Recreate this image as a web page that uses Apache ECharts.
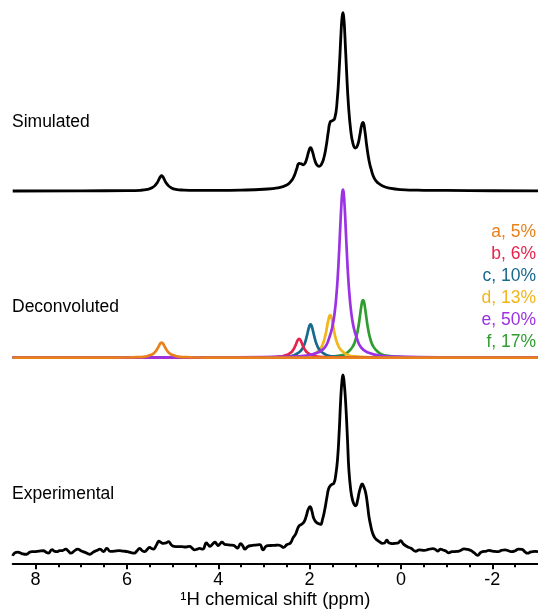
<!DOCTYPE html>
<html><head><meta charset="utf-8">
<script src="https://cdn.jsdelivr.net/npm/echarts@6/dist/echarts.min.js"></script>
<style>html,body{margin:0;padding:0;background:#fff}#c{width:538px;height:615px}</style>
</head><body><div id="c"></div>
<script>
// ---- data (ppm, intensity) ----
const tickLabels = [8, 6, 4, 2, 0, -2];
const minorTicks = [8, 7.5, 7, 6.5, 6, 5.5, 5, 4.5, 4, 3.5, 3, 2.5, 2, 1.5, 1, 0.5, 0, -0.5, -1, -1.5, -2, -2.5];
const spectrumNames = ['Simulated', 'Deconvoluted', 'Experimental'];
const componentLabels = ['a, 5%', 'b, 6%', 'c, 10%', 'd, 13%', 'e, 50%', 'f, 17%'];

const simulated = [[8.5,0],[7.0,0.1],[6.0,0.2],[5.7,0.4],[5.55,0.9],[5.45,1.8],[5.38,3.2],[5.33,5.0],[5.29,7.0],[5.265,8.1],[5.24,8.7],[5.215,8.1],[5.19,7.0],[5.15,5.0],[5.10,3.2],[5.03,1.8],[4.93,0.9],[4.75,0.5],[4.5,0.35],[4.0,0.35],[3.5,0.5],[3.0,1.0],[2.7,1.8],[2.5,3.4],[2.40,5.7],[2.33,9.0],[2.28,12.7],[2.23,15.6],[2.18,15.3],[2.14,14.8],[2.10,15.7],[2.06,18.5],[2.02,22.3],[1.98,24.5],[1.94,22.5],[1.89,17.7],[1.84,14.7],[1.79,13.9],[1.74,15.1],[1.69,18.5],[1.64,24.8],[1.59,33.6],[1.55,39.0],[1.50,39.7],[1.45,41.0],[1.40,50.0],[1.35,69.8],[1.31,90.4],[1.29,98.0],[1.27,100.7],[1.25,97.4],[1.23,89.1],[1.19,67.3],[1.15,48.8],[1.10,34.3],[1.05,26.8],[1.00,24.3],[0.95,25.8],[0.90,31.6],[0.86,37.3],[0.83,38.7],[0.79,33.9],[0.75,25.7],[0.70,17.3],[0.65,12.0],[0.58,7.0],[0.50,4.5],[0.40,2.8],[0.25,1.6],[0.0,0.8],[-0.5,0.4],[-1.0,0.3],[-2.0,0.15],[-3.0,0.1]];

const compA = [[8.5,0],[7.74,0.02],[6.44,0.05],[6.04,0.1],[5.79,0.3],[5.64,0.5],[5.54,1.0],[5.47,1.6],[5.42,2.3],[5.38,3.3],[5.35,4.3],[5.33,5.2],[5.31,6.1],[5.29,7.1],[5.27,8.0],[5.255,8.4],[5.24,8.6],[5.225,8.4],[5.21,8.0],[5.19,7.1],[5.17,6.1],[5.15,5.2],[5.13,4.3],[5.10,3.3],[5.06,2.3],[5.01,1.6],[4.94,1.0],[4.84,0.5],[4.69,0.3],[4.44,0.1],[4.04,0.05],[2.74,0.02],[-3,0]];
const compB = [[8.5,0],[4.73,0.02],[3.43,0.06],[3.03,0.14],[2.78,0.3],[2.63,0.6],[2.53,1.3],[2.46,2.0],[2.41,2.9],[2.37,4.0],[2.34,5.3],[2.32,6.3],[2.30,7.5],[2.28,8.8],[2.26,9.9],[2.245,10.4],[2.23,10.6],[2.215,10.4],[2.20,9.9],[2.18,8.8],[2.16,7.5],[2.14,6.3],[2.12,5.3],[2.09,4.0],[2.05,2.9],[2.00,2.0],[1.93,1.3],[1.83,0.6],[1.68,0.3],[1.43,0.14],[1.03,0.06],[-0.27,0.02],[-3,0]];
const compC = [[8.5,0],[4.48,0.04],[3.18,0.1],[2.78,0.25],[2.53,0.6],[2.38,1.1],[2.28,2.2],[2.21,3.5],[2.16,5.1],[2.12,7.2],[2.09,9.4],[2.07,11.3],[2.05,13.4],[2.03,15.6],[2.01,17.5],[1.995,18.5],[1.98,18.8],[1.965,18.5],[1.95,17.5],[1.93,15.6],[1.91,13.4],[1.89,11.3],[1.87,9.4],[1.84,7.2],[1.80,5.1],[1.75,3.5],[1.68,2.2],[1.58,1.1],[1.43,0.6],[1.18,0.25],[0.78,0.1],[-0.52,0.04],[-3,0]];
const compD = [[8.5,0],[4.05,0.05],[2.75,0.15],[2.35,0.3],[2.10,0.7],[1.95,1.4],[1.85,2.9],[1.78,4.5],[1.73,6.6],[1.69,9.2],[1.66,12.1],[1.64,14.4],[1.62,17.2],[1.60,20.0],[1.58,22.4],[1.565,23.7],[1.55,24.1],[1.535,23.7],[1.52,22.4],[1.50,20.0],[1.48,17.2],[1.46,14.4],[1.44,12.1],[1.41,9.2],[1.37,6.6],[1.32,4.5],[1.25,2.9],[1.15,1.4],[1.00,0.7],[0.75,0.3],[0.35,0.15],[-0.95,0.05],[-3,0]];
const compE = [[8.5,0],[3.77,0.2],[2.47,0.6],[2.07,1.2],[1.82,2.9],[1.67,5.7],[1.57,11.3],[1.50,17.7],[1.45,25.8],[1.41,36.3],[1.38,47.5],[1.36,56.9],[1.34,67.6],[1.32,78.8],[1.30,88.4],[1.285,93.3],[1.27,95],[1.255,93.3],[1.24,88.4],[1.22,78.8],[1.20,67.6],[1.18,56.9],[1.16,47.5],[1.13,36.3],[1.09,25.8],[1.04,17.7],[0.97,11.3],[0.87,5.7],[0.72,2.9],[0.47,1.2],[0.07,0.6],[-1.23,0.2],[-3,0]];
const compF = [[8.5,0],[3.33,0.06],[2.03,0.2],[1.63,0.4],[1.38,1.0],[1.23,2.0],[1.13,3.9],[1.06,6.1],[1.01,8.9],[0.97,12.5],[0.94,16.3],[0.92,19.5],[0.90,23.2],[0.88,27.0],[0.86,30.4],[0.845,32.0],[0.83,32.6],[0.815,32.0],[0.80,30.4],[0.78,27.0],[0.76,23.2],[0.74,19.5],[0.72,16.3],[0.69,12.5],[0.65,8.9],[0.60,6.1],[0.53,3.9],[0.43,2.0],[0.28,1.0],[0.03,0.4],[-0.37,0.2],[-1.67,0.06],[-3,0]];

const experimental = [[8.50,-3.3],[8.45,-1.5],[8.39,-1.2],[8.30,-2.0],[8.20,-2.4],[8.11,-1.0],[8.02,-0.9],[7.92,-0.6],[7.83,-0.4],[7.77,-1.2],[7.72,-1.8],[7.64,0.2],[7.58,-0.8],[7.53,-0.9],[7.47,-0.3],[7.41,-0.3],[7.34,0.5],[7.28,-0.6],[7.23,-1.8],[7.15,-0.5],[7.08,0.5],[7.00,-0.5],[6.93,-1.2],[6.86,-2.0],[6.81,-2.4],[6.74,-1.2],[6.66,-0.3],[6.59,0.5],[6.51,-0.9],[6.44,0.9],[6.36,-0.8],[6.28,-0.6],[6.17,-0.3],[6.08,-0.6],[5.99,-0.9],[5.91,-1.5],[5.84,-1.8],[5.78,-0.5],[5.72,0.9],[5.66,-0.5],[5.61,-0.9],[5.55,0.5],[5.50,1.5],[5.46,0.8],[5.42,0.5],[5.35,3.0],[5.30,5.0],[5.25,4.2],[5.20,3.8],[5.14,4.0],[5.09,4.8],[5.03,3.0],[4.97,2.1],[4.88,1.9],[4.80,1.9],[4.71,1.7],[4.63,2.1],[4.57,1.0],[4.52,0.1],[4.46,0.5],[4.41,0.9],[4.34,0.5],[4.26,4.0],[4.22,3.0],[4.18,2.1],[4.12,3.5],[4.07,4.4],[4.03,3.2],[4.00,2.5],[3.96,3.5],[3.92,4.4],[3.86,3.3],[3.81,3.0],[3.74,2.8],[3.66,2.6],[3.62,1.8],[3.58,1.1],[3.51,3.6],[3.46,2.2],[3.42,0.5],[3.35,2.0],[3.28,2.5],[3.18,2.8],[3.09,3.0],[3.02,0.1],[2.96,2.0],[2.91,2.5],[2.80,2.6],[2.74,2.7],[2.68,2.8],[2.62,2.2],[2.57,1.5],[2.50,3.0],[2.42,4.0],[2.36,7.0],[2.31,8.8],[2.27,11.5],[2.23,13.7],[2.18,14.5],[2.12,16.0],[2.07,19.5],[2.03,23.0],[1.99,24.5],[1.95,22.0],[1.91,17.9],[1.86,15.8],[1.81,15.0],[1.76,14.5],[1.72,17.0],[1.67,22.6],[1.62,30.0],[1.58,34.9],[1.53,36.8],[1.47,37.7],[1.43,42.0],[1.39,50.8],[1.35,68.0],[1.32,84.7],[1.29,96.0],[1.27,98.9],[1.245,95.0],[1.21,82.9],[1.17,62.0],[1.14,45.2],[1.10,34.0],[1.06,28.2],[1.02,25.5],[0.99,25.0],[0.95,28.0],[0.92,32.0],[0.88,35.8],[0.85,37.3],[0.81,35.5],[0.77,32.0],[0.73,25.0],[0.70,18.8],[0.66,13.5],[0.63,10.3],[0.58,7.2],[0.52,5.6],[0.46,4.5],[0.41,3.8],[0.36,4.0],[0.31,5.6],[0.27,4.2],[0.23,3.8],[0.18,3.6],[0.12,3.8],[0.06,4.0],[0.01,5.3],[-0.05,3.5],[-0.14,1.9],[-0.22,1.0],[-0.32,-0.7],[-0.40,0.1],[-0.51,-0.2],[-0.60,0.3],[-0.70,0.8],[-0.76,0.2],[-0.81,-0.6],[-0.86,0.5],[-0.92,0.0],[-0.98,-0.5],[-1.04,-1.6],[-1.12,-0.9],[-1.23,-0.8],[-1.30,-0.3],[-1.38,0.6],[-1.45,0.4],[-1.53,-0.3],[-1.60,-1.5],[-1.68,-3.0],[-1.74,-1.5],[-1.79,-0.9],[-1.86,-0.7],[-1.93,-0.2],[-1.98,-0.5],[-2.05,-0.8],[-2.13,-0.9],[-2.20,-0.2],[-2.28,0.1],[-2.35,-0.4],[-2.43,-0.9],[-2.50,-0.4],[-2.57,0.5],[-2.65,0.4],[-2.71,-0.9],[-2.77,-1.8],[-2.85,-1.0],[-2.93,-0.8],[-3.00,-0.9]];

// ---- styling ----
const FONT = '"Liberation Sans", Arial, sans-serif';
const compColors = ['#E8801C', '#E5234B', '#17698E', '#F2B51A', '#9B32E3', '#2F9D2F'];
const comps = [compA, compB, compC, compD, compE, compF];
const drawOrder = [5, 3, 2, 1, 4, 0];

const chart = echarts.init(document.getElementById('c'), null, {renderer: 'canvas'});
const X_MIN = -3, X_MAX = 8.5;
const hiddenX = (g) => ({type: 'value', gridIndex: g, min: X_MIN, max: X_MAX, inverse: true, show: false});

const series = [];
const lineBase = {type: 'line', showSymbol: false, symbol: 'none', smooth: 0.5, animation: false, silent: true, clip: false};
series.push(Object.assign({}, lineBase, {xAxisIndex: 0, yAxisIndex: 0, data: simulated,
  lineStyle: {color: '#000', width: 2.8, join: 'round'}}));
drawOrder.forEach(i => {
  series.push(Object.assign({}, lineBase, {xAxisIndex: 1, yAxisIndex: 1, data: comps[i],
    lineStyle: {color: compColors[i], width: 2.7, join: 'round'}}));
});
series.push(Object.assign({}, lineBase, {xAxisIndex: 2, yAxisIndex: 2, data: experimental,
  lineStyle: {color: '#000', width: 2.8, join: 'round'}}));

const labelY = [121.5, 307, 494];
const legendY = [232, 254, 276, 298, 320, 342];
const graphic = [];
spectrumNames.forEach((t, i) => graphic.push({type: 'text', left: 12, top: labelY[i] - 8.5,
  style: {text: t, fill: '#000', font: '17.5px ' + FONT}}));
componentLabels.forEach((t, i) => graphic.push({type: 'text', right: 2, top: legendY[i] - 8.5,
  style: {text: t, fill: compColors[i], font: '17.5px ' + FONT}}));

chart.setOption({
  animation: false,
  backgroundColor: '#fff',
  grid: [
    {left: 12.7, right: 0, top: 14, height: 177, outerBoundsMode: 'none', containLabel: false},
    {left: 12.7, right: 0, top: 180.7, height: 177, outerBoundsMode: 'none', containLabel: false},
    {left: 12.7, right: 0, top: 373, height: 190.3, outerBoundsMode: 'none', containLabel: false}
  ],
  xAxis: [
    hiddenX(0), hiddenX(1),
    {type: 'value', gridIndex: 2, min: X_MIN, max: X_MAX, inverse: true, position: 'bottom',
     axisLine: {show: true, onZero: false, lineStyle: {color: '#000', width: 2}},
     axisTick: {show: true, customValues: minorTicks, length: 4, lineStyle: {color: '#000', width: 2}},
     axisLabel: {show: false}, splitLine: {show: false}},
    {type: 'value', gridIndex: 2, min: X_MIN, max: X_MAX, inverse: true, position: 'bottom',
     axisLine: {show: false, onZero: false},
     axisTick: {show: true, customValues: tickLabels, length: 6, lineStyle: {color: '#000', width: 2}},
     axisLabel: {show: true, customValues: tickLabels, fontSize: 18, fontFamily: FONT, color: '#000', margin: 8,
       formatter: v => String(v)},
     splitLine: {show: false},
     name: '\u00B9H chemical shift (ppm)', nameLocation: 'middle', nameGap: 27,
     nameTextStyle: {fontSize: 18.5, fontFamily: FONT, color: '#000'}}
  ],
  yAxis: [
    {type: 'value', gridIndex: 0, min: 0, max: 100, show: false},
    {type: 'value', gridIndex: 1, min: 0, max: 100, show: false},
    {type: 'value', gridIndex: 2, min: -7.5, max: 100, show: false}
  ],
  series: series,
  graphic: graphic
});
</script>
</body></html>
